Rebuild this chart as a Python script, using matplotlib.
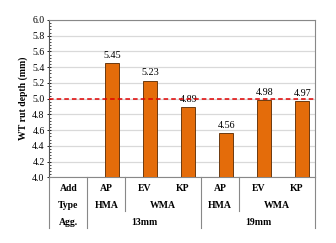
import numpy as np
import matplotlib.pyplot as plt
from matplotlib.ticker import MultipleLocator

# data
add_labels = ["Add", "AP", "EV", "KP", "AP", "EV", "KP"]
rut_depth = [np.nan, 5.45, 5.23, 4.89, 4.56, 4.98, 4.97]
value_text = ["", "5.45", "5.23", "4.89", "4.56", "4.98", "4.97"]
type_labels = [("Type", 0, 0), ("HMA", 1, 1), ("WMA", 2, 3), ("HMA", 4, 4), ("WMA", 5, 6)]
agg_labels = [("Agg.", 0, 0), ("13mm", 1, 3), ("19mm", 4, 6)]
limit = 5.0

plt.rcParams['font.family'] = ['Liberation Serif', 'DejaVu Serif']

fig = plt.figure(figsize=(3.36, 2.43), dpi=100)
ax = fig.add_axes([0.147, 0.27, 0.791, 0.648])

x = np.arange(len(add_labels))
ax.bar(x + 0.16, rut_depth, width=0.37, color='#E46C0A', edgecolor='#6b3a10', linewidth=0.7, zorder=3)
for xi, v, t in zip(x, rut_depth, value_text):
    if t:
        ax.text(xi + 0.16, v + 0.04, t, ha='center', va='bottom', fontsize=7.3, zorder=4)

ax.axhline(limit, color='#E00000', linestyle=(0, (3, 2)), linewidth=1.1, zorder=5, clip_on=False)

ax.set_xlim(-0.5, 6.5)
ax.set_ylim(4.0, 6.0)
ax.yaxis.set_major_locator(MultipleLocator(0.2))
ax.yaxis.set_minor_locator(MultipleLocator(0.04))
ax.yaxis.set_major_formatter(plt.FuncFormatter(lambda v, p: f"{v:.1f}"))
ax.tick_params(axis='y', which='major', labelsize=7, length=3, width=0.6, pad=2, direction='inout')
ax.tick_params(axis='y', which='minor', length=1.5, width=0.5, direction='in')
ax.set_xticks([])
ax.grid(axis='y', color='#D9D9D9', linewidth=0.9, zorder=0)
ax.set_ylabel("WT rut depth (mm)", fontsize=7, fontweight='bold', labelpad=3)

for s in ['top', 'right']:
    ax.spines[s].set_color('#888888')
    ax.spines[s].set_linewidth(0.8)
ax.spines['left'].set_color('#555555')
ax.spines['bottom'].set_color('#888888')
ax.spines['left'].set_linewidth(0.8)
ax.spines['bottom'].set_linewidth(0.8)

# category table under the axis
trans = ax.get_xaxis_transform()
rows_y = [-0.073, -0.181, -0.289]
bottom = -0.32
mid = -0.213
for xi, lab in zip(x, add_labels):
    ax.text(xi, rows_y[0], lab, transform=trans, ha='center', va='center',
            fontsize=7, fontweight='bold', clip_on=False)
for lab, a, b in type_labels:
    ax.text((a + b) / 2, rows_y[1], lab, transform=trans, ha='center', va='center',
            fontsize=7, fontweight='bold', clip_on=False)
for lab, a, b in agg_labels:
    ax.text((a + b) / 2, rows_y[2], lab, transform=trans, ha='center', va='center',
            fontsize=7, fontweight='bold', clip_on=False)

for xb in [-0.5, 0.5, 3.5, 6.5]:
    ax.plot([xb, xb], [0, bottom], transform=trans, color='#888888', linewidth=0.8, clip_on=False)
for xb in [1.5, 4.5]:
    ax.plot([xb, xb], [0, mid], transform=trans, color='#888888', linewidth=0.8, clip_on=False)

fig.savefig("out.png", dpi=100)
